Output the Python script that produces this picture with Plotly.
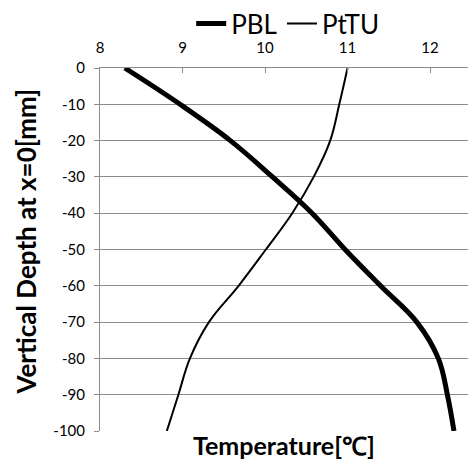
import plotly.graph_objects as go

depth = [0, -10, -20, -30, -40, -50, -60, -70, -80, -90, -100]
pbl = [8.30, 8.97, 9.58, 10.09, 10.57, 10.97, 11.40, 11.84, 12.10, 12.21, 12.29]
pttu = [11.00, 10.90, 10.79, 10.59, 10.33, 10.01, 9.68, 9.32, 9.09, 8.95, 8.81]

x_ticks = [8, 9, 10, 11, 12]
y_ticks = [0, -10, -20, -30, -40, -50, -60, -70, -80, -90, -100]
y_ticktext = ["0", "-10", "-20", "-30", "-40", "-50", "-60", "-70", "-80", "-90", "-100"]

FONT = "Lato"
GRID = "#8c8c8c"

fig = go.Figure()
fig.add_trace(go.Scatter(x=pbl, y=depth, mode="lines", name="PBL",
                         line=dict(color="black", width=5, shape="spline", smoothing=1.1)))
fig.add_trace(go.Scatter(x=pttu, y=depth, mode="lines", name="PtTU",
                         line=dict(color="black", width=2, shape="spline", smoothing=1.1)))

fig.update_layout(
    width=468, height=463,
    margin=dict(l=100, r=0, t=68, b=32, autoexpand=False),
    paper_bgcolor="white", plot_bgcolor="white",
    font=dict(family=FONT, color="black"),
    showlegend=True,
    legend=dict(orientation="h", x=0.51, xanchor="center", y=1.0, yanchor="top",
                yref="container", font=dict(size=26, family=FONT),
                itemwidth=30, tracegroupgap=0, bgcolor="rgba(0,0,0,0)"),
    xaxis=dict(side="top", range=[8, 12.46], tickvals=x_ticks, automargin=False,
               showgrid=False, zeroline=False, showline=True, linecolor=GRID, linewidth=1,
               ticks="inside", ticklen=5, tickcolor=GRID,
               tickfont=dict(size=15, family=FONT), ticklabelstandoff=8),
    yaxis=dict(range=[-100, 0], tickvals=y_ticks, ticktext=y_ticktext, automargin=False,
               showgrid=True, gridcolor=GRID, gridwidth=1, zeroline=False,
               showline=True, linecolor=GRID, linewidth=1,
               ticks="outside", ticklen=5, tickcolor=GRID,
               tickfont=dict(size=15, family=FONT), ticklabelstandoff=6),
)

fig.add_annotation(text="<b>Temperature[℃]</b>", xref="paper", yref="paper",
                   x=0.5, y=0, yshift=3, xanchor="center", yanchor="top",
                   showarrow=False, font=dict(size=25, family=FONT, color="black"))
fig.add_annotation(text="<b>Vertical Depth at x=0[mm]</b>", xref="paper", yref="paper",
                   x=0, xshift=-75, y=0.5, yshift=8, xanchor="center", yanchor="middle",
                   textangle=-90, showarrow=False,
                   font=dict(size=26, family=FONT, color="black"))

fig.write_html("out.html")
